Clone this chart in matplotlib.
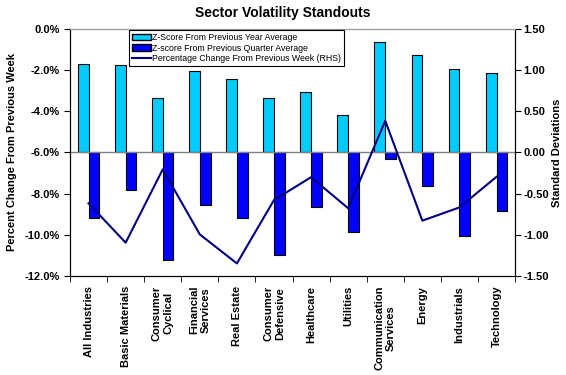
import matplotlib
matplotlib.use("Agg")
import matplotlib.pyplot as plt
import numpy as np
from matplotlib.ticker import FuncFormatter
from matplotlib.patches import Patch
from matplotlib.lines import Line2D

categories = ["All Industries", "Basic Materials", "Consumer\nCyclical", "Financial\nServices",
              "Real Estate", "Consumer\nDefensive", "Healthcare", "Utilities",
              "Communication\nServices", "Energy", "Industrials", "Technology"]
z_year = [1.07, 1.06, 0.66, 0.99, 0.89, 0.66, 0.73, 0.45, 1.34, 1.18, 1.01, 0.96]
z_quarter = [-0.79, -0.46, -1.31, -0.64, -0.79, -1.25, -0.66, -0.97, -0.08, -0.41, -1.01, -0.71]
pct_change = [-8.47, -10.38, -6.82, -9.98, -11.39, -8.31, -7.2, -8.71, -4.46, -9.31, -8.67, -7.18]

plt.rcParams['font.family'] = ['Liberation Sans', 'DejaVu Sans']

fig = plt.figure(figsize=(5.66, 3.75), dpi=100)
ax = fig.add_axes([0.1237, 0.264, 0.91 - 0.1237, 0.9227 - 0.264])
ax2 = ax.twinx()

x = np.arange(len(categories))
w = 0.29
ax2.bar(x - w / 2, z_year, width=w, color="#00CCFF", edgecolor="black", linewidth=0.8, zorder=2)
ax2.bar(x + w / 2, z_quarter, width=w, color="#0000FF", edgecolor="black", linewidth=0.8, zorder=2)
ax2.axhline(0, color="#808080", linewidth=1.0, zorder=3)
ax2.set_ylim(-1.5, 1.5)
ax2.set_yticks(np.arange(-1.5, 1.51, 0.5))
ax2.yaxis.set_major_formatter(FuncFormatter(lambda v, p: f"{v:.2f}"))
ax2.set_ylabel("Standard Deviations", fontsize=8, fontweight="bold", labelpad=2)

ax.plot(x, pct_change, color="#000080", linewidth=1.5, zorder=5)
ax.set_ylim(-12, 0)
ax.set_yticks(np.arange(-12, 0.1, 2))
ax.yaxis.set_major_formatter(FuncFormatter(lambda v, p: f"{v:.1f}%"))
ax.set_ylabel("Percent Change From Previous Week", fontsize=8, fontweight="bold", labelpad=5)
ax.set_xlim(-0.5, len(categories) - 0.5)
ax.set_xticks(x)
ax.set_xticklabels(categories, rotation=90, fontsize=8, fontweight="bold", va="top", ha="center")
ax.set_xticks(np.arange(-0.5, len(categories), 1), minor=True)
ax.tick_params(axis="x", which="major", length=0, pad=7)
ax.tick_params(axis="x", which="minor", length=4, direction="out")

ax.set_zorder(ax2.get_zorder() + 1)
ax.patch.set_visible(False)

for a in (ax, ax2):
    a.spines["top"].set_color("#999999")
    a.spines["top"].set_linestyle((0, (1, 1)))
    a.spines["top"].set_linewidth(0.8)
for lab in ax.get_yticklabels() + ax2.get_yticklabels():
    lab.set_fontweight("bold")
    lab.set_fontsize(8)
ax.tick_params(axis="y", length=4)
ax2.tick_params(axis="y", length=4, pad=2)

fig.suptitle("Sector Volatility Standouts", fontsize=10, fontweight="bold", y=0.985)

handles = [Patch(facecolor="#00CCFF", edgecolor="black"),
           Patch(facecolor="#0000FF", edgecolor="black"),
           Line2D([0], [0], color="#000080", linewidth=1.5)]
labels = ["Z-Score From Previous Year Average", "Z-score From Previous Quarter Average",
          "Percentage Change From Previous Week (RHS)"]
leg = ax.legend(handles, labels, loc="upper left", bbox_to_anchor=(0.13, 1.0), fontsize=6.3,
                frameon=True, fancybox=False, edgecolor="black", framealpha=1,
                handlelength=2.2, handleheight=0.8, borderpad=0.3, labelspacing=0.2,
                handletextpad=0.1, borderaxespad=0.15)
leg.get_frame().set_linewidth(0.8)

fig.savefig("out.png", dpi=100)
